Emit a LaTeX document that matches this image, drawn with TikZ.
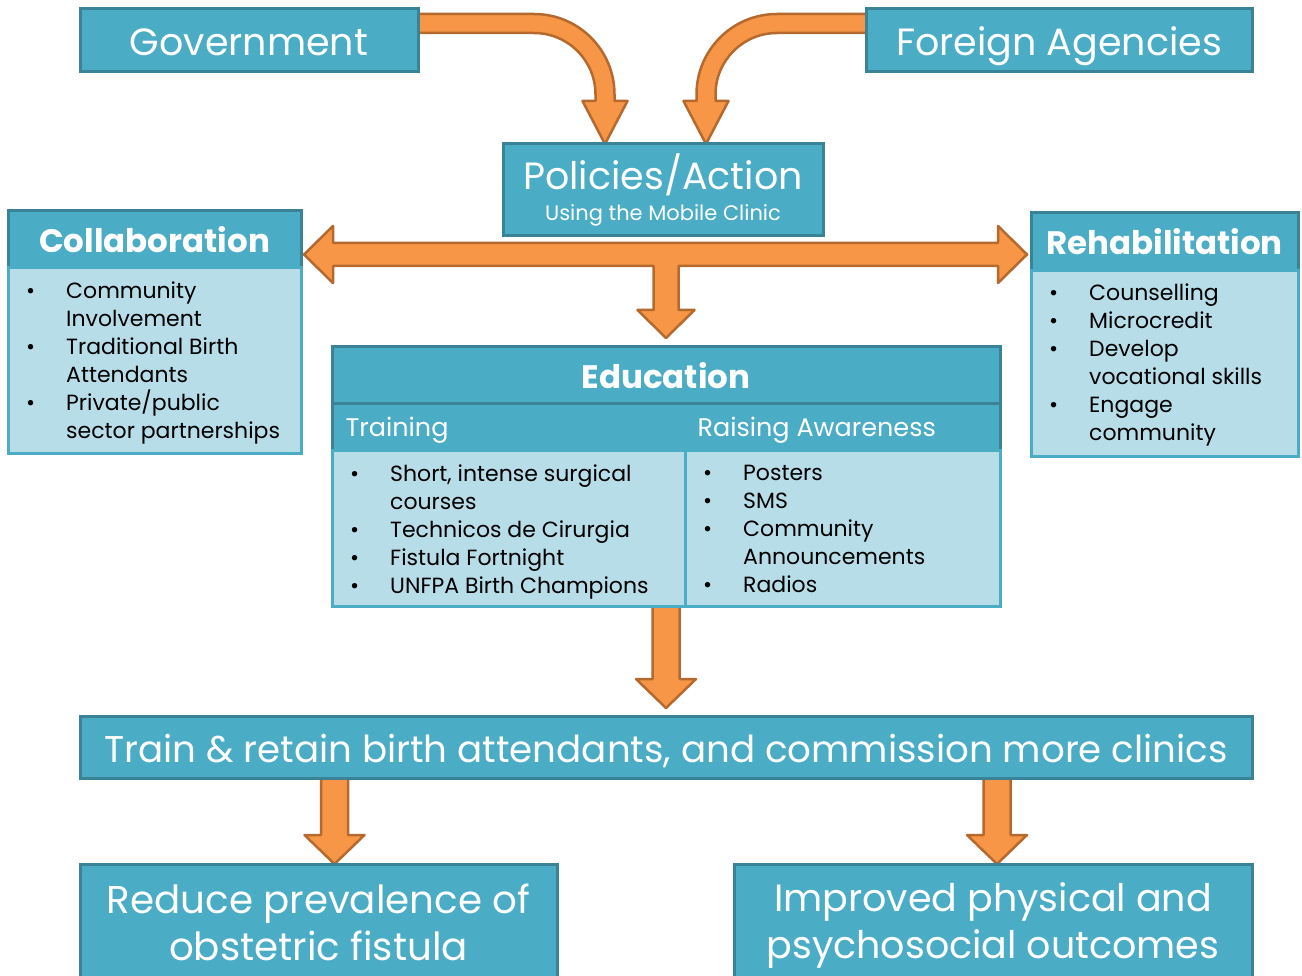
\documentclass[tikz,border=0pt]{standalone}
\usepackage{fontspec}
\setmainfont{Poppins}
\usetikzlibrary{calc,positioning,backgrounds}
\pgfdeclarelayer{back}
\pgfsetlayers{background,back,main}

\definecolor{boxfill}{HTML}{4BACC6}
\definecolor{boxline}{HTML}{3A8296}
\definecolor{listfill}{HTML}{B7DDE8}
\definecolor{arrowfill}{HTML}{F79646}
\definecolor{arrowline}{HTML}{B5692E}

\newcommand\titlefont{\fontsize{38}{44}\selectfont}
\newcommand\subfont{\fontsize{21}{26}\selectfont}
\newcommand\headfont{\bfseries\fontsize{32.5}{36}\selectfont}
\newcommand\colfont{\fontsize{25.5}{30}\selectfont}
\newcommand\listfont{\fontsize{22}{28}\selectfont}
\newcommand\bul{\makebox[40pt][l]{\textbullet}}
\newcommand\ind{\hspace*{40pt}}

% straight block arrow pointing down, shaft from #1, tip at #2
\newcommand\dropto[2]{%
  \filldraw[fat] let \p1=(#1), \p2=(#2) in
    (\x2-13.5pt,\y1) -- (\x2-13.5pt,\y2+29pt) -- (\x2-30pt,\y2+29pt) -- (\x2,\y2)
    -- (\x2+30pt,\y2+29pt) -- (\x2+13.5pt,\y2+29pt) -- (\x2+13.5pt,\y1) -- cycle;}

\begin{document}
\begin{tikzpicture}[
  x=1pt, y=-1pt,
  box/.style={rectangle, fill=boxfill, draw=boxline, line width=3pt, text=white,
    inner sep=0pt, outer sep=0pt, align=center},
  listbox/.style={rectangle, fill=listfill, draw=boxfill, line width=3pt,
    inner sep=0pt, outer sep=0pt},
  items/.style={anchor=north west, inner sep=0pt, align=left, font=\listfont},
  fat/.style={fill=arrowfill, draw=arrowline, line width=2.5pt, line join=round},
  oneline/.style={text height=33pt, text depth=3pt},
  ]
  \useasboundingbox (0,0) rectangle (1302,976);
  \begin{pgfonlayer}{background}
    \fill[white] (0,0) rectangle (1302,976);
  \end{pgfonlayer}

  % sources and policy
  \node[box, oneline, font=\titlefont, minimum width=338pt, minimum height=63pt] (gov) at (249,40.5) {Government};
  \node[box, oneline, font=\titlefont, minimum width=386pt, minimum height=63pt] (foreign) at (1059,40.5) {Foreign Agencies};
  \node[box, minimum width=320pt, minimum height=92pt] (policy) at (663,190)
    {{\titlefont Policies/Action}\\[7pt]{\subfont Using the Mobile Clinic}};

  % side panels
  \node[box, font=\headfont, minimum width=293pt, minimum height=57pt] (collhead) at (154.5,239.5) {Collaboration};
  \node[listbox, minimum width=293pt, minimum height=185pt, below=0pt of collhead] (collbody) {};
  \node[items] (colllist) at ($(collbody.north west)+(18,14)$)
    {\bul Community\\ \ind Involvement\\ \bul Traditional Birth\\ \ind Attendants\\
     \bul Private/public\\ \ind sector partnerships};

  \node[box, font=\headfont, minimum width=267pt, minimum height=58pt] (rehabhead) at (1164.5,242) {Rehabilitation};
  \node[listbox, minimum width=267pt, minimum height=185pt, below=0pt of rehabhead] (rehabbody) {};
  \node[items] (rehablist) at ($(rehabbody.north west)+(18,13)$)
    {\bul Counselling\\ \bul Microcredit\\ \bul Develop\\ \ind vocational skills\\
     \bul Engage\\ \ind community};

  % education table
  \node[box, font=\headfont, minimum width=668pt, minimum height=57pt] (edu) at (666,375.5) {Education};
  \node[box, minimum width=668pt, minimum height=46pt, below=0pt of edu] (edusub) {};
  \node[anchor=west, text=white, font=\colfont] (traininglbl) at ($(edusub.west)+(10,3)$) {Training};
  \node[anchor=west, text=white, font=\colfont] (awarelbl) at ($(edusub.west)+(362,3)$) {Raising Awareness};
  \node[listbox, anchor=north west, minimum width=353pt, minimum height=156pt] (edulist) at (edusub.south west) {};
  \node[listbox, anchor=north east, minimum width=315pt, minimum height=156pt] (awarelist) at (edusub.south east) {};
  \node[items] (trainitems) at ($(edulist.north west)+(18,15)$)
    {\bul Short, intense surgical\\ \ind courses\\ \bul Technicos de Cirurgia\\
     \bul Fistula Fortnight\\ \bul UNFPA Birth Champions};
  \node[items] (awareitems) at ($(awarelist.north west)+(18,15)$)
    {\bul Posters\\ \bul SMS\\ \bul Community\\ \ind Announcements\\ \bul Radios};

  % outcomes
  \node[box, oneline, font=\fontsize{37.2}{44}\selectfont, minimum width=1172pt, minimum height=62pt] (retain) at (666,747)
    {Train \& retain birth attendants, and commission more clinics};
  \node[box, font=\fontsize{38.8}{47}\selectfont, minimum width=477pt, minimum height=116pt] (reduce) at (318.5,922)
    {Reduce prevalence of\\obstetric fistula};
  \node[box, font=\fontsize{38}{47}\selectfont, minimum width=518pt, minimum height=116pt] (improve) at (993,922)
    {\rule{0pt}{36pt}Improved physical and\\psychosocial outcomes};

  \coordinate (govout) at ($(gov.north east)+(-4,14.5)$);
  \coordinate (govin) at ($(policy.north)+(-58,0)$);
  \coordinate (forout) at ($(foreign.north west)+(4,14.5)$);
  \coordinate (forin) at ($(policy.north)+(43,0)$);
  \coordinate (lefttip) at ($(collhead.south east)+(3,-13.5)$);
  \coordinate (righttip) at ($(rehabhead.south west)+(-4,-16.5)$);
  \coordinate (edutip) at ($(edu.north)+(0,-9)$);

  \begin{pgfonlayer}{back}
    % bent arrows into the policy box
    \filldraw[fat] let \p1=(govout), \p2=(govin) in
      (\x1,\y1+9.5pt) -- (\x2-71pt,\y1+9.5pt)
      .. controls (\x2-26.5pt,\y1+9.5pt) and (\x2+9.5pt,\y1-26.5pt) .. (\x2+9.5pt,\y1-71pt)
      -- (\x2+9.5pt,\y2+43pt) -- (\x2+22.5pt,\y2+43pt) -- (\x2,\y2) -- (\x2-22.5pt,\y2+43pt)
      -- (\x2-9.5pt,\y2+43pt) -- (\x2-9.5pt,\y1-71pt)
      .. controls (\x2-9.5pt,\y1-37pt) and (\x2-37pt,\y1-9.5pt) .. (\x2-71pt,\y1-9.5pt)
      -- (\x1,\y1-9.5pt) -- cycle;
    \filldraw[fat] let \p1=(forout), \p2=(forin) in
      (\x1,\y1+9.5pt) -- (\x2+71pt,\y1+9.5pt)
      .. controls (\x2+26.5pt,\y1+9.5pt) and (\x2-9.5pt,\y1-26.5pt) .. (\x2-9.5pt,\y1-71pt)
      -- (\x2-9.5pt,\y2+43pt) -- (\x2-22.5pt,\y2+43pt) -- (\x2,\y2) -- (\x2+22.5pt,\y2+43pt)
      -- (\x2+9.5pt,\y2+43pt) -- (\x2+9.5pt,\y1-71pt)
      .. controls (\x2+9.5pt,\y1-37pt) and (\x2+37pt,\y1-9.5pt) .. (\x2+71pt,\y1-9.5pt)
      -- (\x1,\y1-9.5pt) -- cycle;

    % double arrow to the side panels, with a branch down to education
    \filldraw[fat] let \p1=(lefttip), \p2=(righttip), \p3=(edutip) in
      (\x1,\y1) -- (\x1+29pt,\y1+28.5pt) -- (\x1+29pt,\y1+11.5pt) -- (\x2-29pt,\y1+11.5pt)
      -- (\x2-29pt,\y1+28.5pt) -- (\x2,\y1) -- (\x2-29pt,\y1-28.5pt) -- (\x2-29pt,\y1-11.5pt)
      -- (\x3+12.5pt,\y1-11.5pt) -- (\x3+12.5pt,\y3+28pt) -- (\x3+28.5pt,\y3+28pt) -- (\x3,\y3)
      -- (\x3-28.5pt,\y3+28pt) -- (\x3-12.5pt,\y3+28pt) -- (\x3-12.5pt,\y1-11.5pt)
      -- (\x1+29pt,\y1-11.5pt) -- (\x1+29pt,\y1-28.5pt) -- cycle;

    \dropto{$(edulist.south -| edu.south)+(0,-3)$}{$(retain.north)+(0,-8)$}
    \dropto{$(retain.south)+(0,-3)$}{$(reduce.north)+(16,0)$}
    \dropto{$(retain.south)+(0,-3)$}{$(improve.north)+(4,0)$}
  \end{pgfonlayer}
\end{tikzpicture}
\end{document}
